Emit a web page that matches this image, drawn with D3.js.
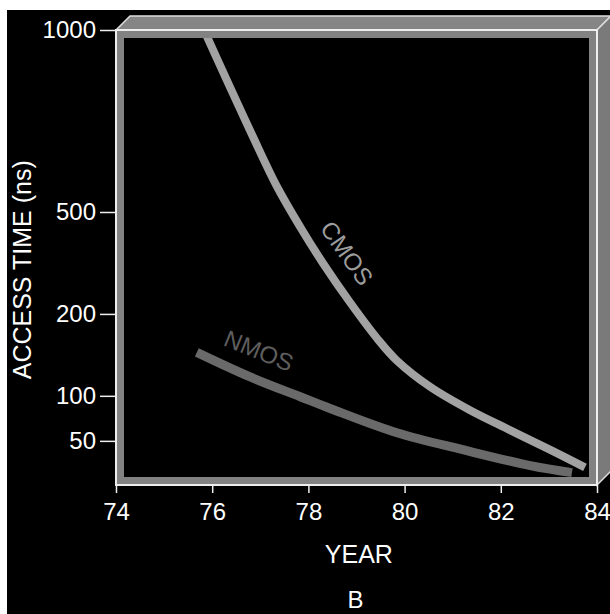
<!DOCTYPE html>
<meta charset="utf-8">
<style>
  body { margin: 0; background: #fff; }
  svg { display: block; font-family: "Liberation Sans", Arial, sans-serif; }
  .axis text { fill: #fff; font-size: 24px; }
  .axis line { stroke: #eee; stroke-width: 1.5px; }
  .axis path { display: none; }
</style>
<body>
<div id="chart"></div>
<script src="https://d3js.org/d3.v7.min.js"></script>
<script>
// access time vs year
var yTicks = [50, 100, 200, 500, 1000];
var xTicks = [74, 76, 78, 80, 82, 84];

var cmosYear  = [75.83, 76.37, 76.85, 77.35, 77.83, 78.30, 78.86, 79.43, 79.84, 80.53, 81.36, 82.19, 83.02, 83.75];
var cmosValue = [1000, 843, 706, 569, 456, 350, 235, 170, 143, 111, 84, 62, 45, 35];

var nmosYear  = [75.68, 76.79, 77.83, 78.45, 79.84, 81.21, 82.61, 83.48];
var nmosValue = [153, 123, 99, 86, 59, 45, 36, 32];

var seriesNames = ["CMOS", "NMOS"];
var labelYear  = [78.8, 76.97];
var labelValue = [379, 155];
var labelAngle = [55, 22];

var W = 610, H = 614;
var m = {top: 30, right: 13, bottom: 129, left: 116};
var w = W - m.left - m.right,   // 481
    h = H - m.top - m.bottom;   // 455

var svg = d3.select("#chart").append("svg")
    .attr("width", W)
    .attr("height", H);

// scanned page: white edge at top/left, black plate
svg.append("rect").attr("x", 7).attr("y", 10).attr("width", W - 7).attr("height", H - 10).attr("fill", "#000");

var g = svg.append("g").attr("transform", "translate(" + m.left + "," + m.top + ")");

var x = d3.scaleLinear().domain([74, 84]).range([0, w]);
// the artist's y scale is not log, so piece it together from the tick spacing
var y = d3.scaleLinear()
    .domain([25, 50, 100, 200, 500, 1000])
    .range([h, h * 0.903, h * 0.804, h * 0.624, h * 0.4, 0]);

// 3D box: top and right faces
var d = 14;
g.append("path")
    .attr("d", "M0,0L" + d + "," + (-d) + "L" + (w + d) + "," + (-d) + "L" + w + ",0Z")
    .attr("fill", "#858585").attr("stroke", "#ddd").attr("stroke-width", 1.5);
g.append("path")
    .attr("d", "M" + w + ",0L" + (w + d) + "," + (-d) + "L" + (w + d) + "," + (h - d) + "L" + w + "," + h + "Z")
    .attr("fill", "#7a7a7a").attr("stroke", "#ddd").attr("stroke-width", 1.5);

g.append("clipPath").attr("id", "clip")
  .append("rect").attr("width", w).attr("height", h);

var line = d3.line()
    .x(function(p) { return x(p[0]); })
    .y(function(p) { return y(p[1]); })
    .curve(d3.curveCatmullRom.alpha(0.5));

var curves = g.append("g").attr("clip-path", "url(#clip)");
curves.append("path")
    .datum(d3.zip(nmosYear, nmosValue))
    .attr("d", line)
    .attr("fill", "none").attr("stroke", "#6a6a6a").attr("stroke-width", 9);
curves.append("path")
    .datum(d3.zip(cmosYear, cmosValue))
    .attr("d", line)
    .attr("fill", "none").attr("stroke", "#a2a2a2").attr("stroke-width", 8);

// bevel of the front opening
g.append("rect")
    .attr("x", 4).attr("y", 4).attr("width", w - 8).attr("height", h - 8)
    .attr("fill", "none").attr("stroke", "#828282").attr("stroke-width", 8);
g.append("rect")
    .attr("width", w).attr("height", h)
    .attr("fill", "none").attr("stroke", "#eee").attr("stroke-width", 2);

// curve labels
g.selectAll(".lbl")
    .data(seriesNames)
  .enter().append("text")
    .attr("class", "lbl")
    .attr("transform", function(s, i) {
      return "translate(" + x(labelYear[i]) + "," + y(labelValue[i]) + ") rotate(" + labelAngle[i] + ")";
    })
    .attr("text-anchor", "middle")
    .attr("dy", "0.35em")
    .style("font-size", "24px")
    .attr("fill", function(s, i) { return i ? "#5e5e5e" : "#9c9c9c"; })
    .text(String);

// axes
g.append("g")
    .attr("class", "axis")
    .call(d3.axisLeft(y).tickValues(yTicks).tickFormat(d3.format("d")).tickSize(16).tickPadding(4));

g.append("g")
    .attr("class", "axis")
    .attr("transform", "translate(0," + h + ")")
    .call(d3.axisBottom(x).tickValues(xTicks).tickSize(8).tickPadding(10));

g.append("text")
    .attr("x", x(79.05)).attr("y", h + 78)
    .attr("text-anchor", "middle")
    .attr("fill", "#fff")
    .style("font-size", "25px")
    .text("YEAR");

g.append("text")
    .attr("x", x(78.98)).attr("y", h + 123)
    .attr("text-anchor", "middle")
    .attr("fill", "#fff")
    .style("font-size", "24px")
    .text("B");

g.append("text")
    .attr("transform", "translate(" + (-85) + "," + y(330) + ") rotate(-90)")
    .attr("text-anchor", "middle")
    .attr("fill", "#fff")
    .style("font-size", "25px")
    .text("ACCESS TIME (ns)");
</script>
</body>
